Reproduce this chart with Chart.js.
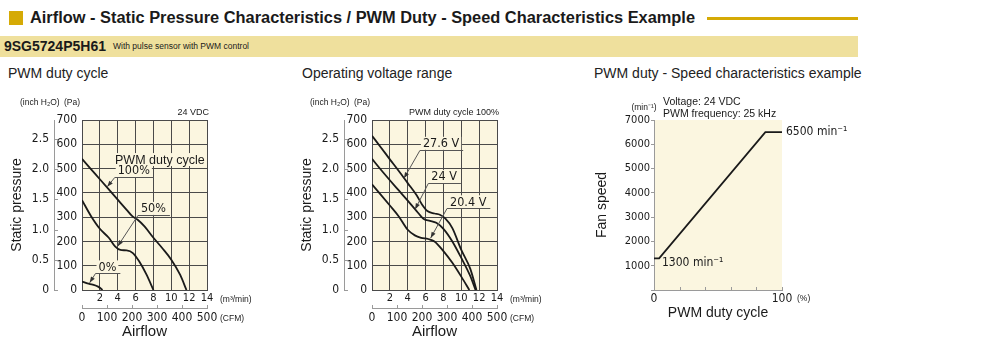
<!DOCTYPE html>
<html>
<head>
<meta charset="utf-8">
<script src="https://cdn.jsdelivr.net/npm/chart.js@4.4.1/dist/chart.umd.min.js"></script>
<style>
  body { margin: 0; width: 1000px; height: 352px; background: #fff; position: relative; overflow: hidden;
         font-family: "Liberation Sans", Arial, sans-serif; color: #1a1a1a; }
  .abs { position: absolute; white-space: nowrap; }
  #titleBox { left: 9px; top: 11px; width: 14px; height: 14px; background: #d5aa05; }
  #title { left: 30px; top: 9px; font-weight: bold; font-size: 16px; line-height: 18px; transform-origin: left top; }
  #titleLine { left: 707px; top: 17px; width: 151px; height: 3px; background: #d5aa05; }
  #banner { left: 0; top: 36px; width: 858px; height: 21px; background: #efe09d; }
  #model { left: 4px; top: 38px; font-weight: bold; font-size: 14px; line-height: 17px; }
  #model span { font-weight: normal; font-size: 8.5px; margin-left: 7px; vertical-align: 2px; }
  .sec { top: 65px; font-size: 14px; line-height: 16px; color: #222; }
  canvas { position: absolute; }
</style>
</head>
<body>
<div id="titleBox" class="abs"></div>
<div id="title" class="abs">Airflow - Static Pressure Characteristics / PWM Duty - Speed Characteristics Example</div>
<div id="titleLine" class="abs"></div>
<div id="banner" class="abs"></div>
<div id="model" class="abs">9SG5724P5H61<span>With pulse sensor with PWM control</span></div>
<div class="abs sec" style="left:8px">PWM duty cycle</div>
<div class="abs sec" style="left:302px">Operating voltage range</div>
<div class="abs sec" style="left:594px">PWM duty - Speed characteristics example</div>

<canvas id="c1" width="290" height="250" style="left:0;top:95px"></canvas>
<canvas id="c2" width="290" height="250" style="left:290px;top:95px"></canvas>
<canvas id="c3" width="300" height="250" style="left:580px;top:95px"></canvas>

<script>
// ---- data (airflow in m3/min, static pressure in Pa) ----
var duty100X = [0, 1, 2, 3, 4, 5, 5.6, 6.2, 7, 8, 9, 10, 11, 11.7];
var duty100P = [540, 498, 456, 414, 372, 330, 305, 290, 262, 215, 172, 125, 62, 0];
var duty50X = [0, 1, 2, 3, 3.7, 4.3, 5, 5.7, 6.4, 7.2, 8];
var duty50P = [370, 305, 252, 215, 180, 165, 163, 152, 118, 65, 0];
var duty0X = [0, 0.6, 1.2, 1.8, 2.3];
var duty0P = [35, 27, 22, 14, 0];

var v276X = [0, 1, 2, 3, 4, 5, 5.6, 6.2, 7, 7.6, 8.2, 9, 10, 11, 11.7];
var v276P = [635, 587, 538, 490, 440, 390, 352, 325, 315, 310, 295, 255, 165, 88, 0];
var v24X = [0, 1, 2, 3, 4, 5, 5.8, 6.5, 7.2, 8, 9, 10, 11, 11.6];
var v24P = [540, 495, 452, 410, 368, 325, 292, 285, 277, 252, 200, 132, 58, 0];
var v204X = [0, 1, 2, 3, 4, 4.8, 5.5, 6.3, 7, 8, 9, 10, 10.9];
var v204P = [435, 392, 348, 303, 248, 225, 215, 210, 200, 160, 112, 55, 0];

var dutyPct = [0, 4, 87, 100];
var fanSpeed = [1300, 1300, 6500, 6500];

var paTicks = 100, inchTicks = 0.5, m3Ticks = 2, cfmTicks = 100;
var PA_PER_INCH = 249.09;

// ---- styles ----
var NARROW = '"Liberation Sans Narrow", "DejaVu Sans Condensed", "Liberation Sans", sans-serif';
var REG = '"Liberation Sans", Arial, sans-serif';
var CREAM = '#fbf6e0';
var GRID = '#4a4a4a';
var AXIS = '#9a9a9a';
var INK = '#1a1a1a';

Chart.defaults.font.family = NARROW;
Chart.defaults.color = INK;

// fit title width
var t = document.getElementById('title');
t.style.transform = 'scaleX(' + (665 / t.offsetWidth) + ')';

function pts(xs, ys) {
    return xs.map(function (v, i) { return { x: v, y: ys[i] }; });
}

var plotBg = {
    id: 'plotBg',
    beforeDraw: function (chart) {
        var a = chart.chartArea, ctx = chart.ctx;
        ctx.save();
        ctx.fillStyle = CREAM;
        ctx.fillRect(a.left, a.top, a.right - a.left, a.bottom - a.top);
        ctx.restore();
    }
};

// small tick marks pointing inward from an axis line
var innerTicks = {
    id: 'innerTicks',
    afterDraw: function (chart, args, opts) {
        var ctx = chart.ctx;
        ctx.save();
        ctx.strokeStyle = AXIS;
        ctx.lineWidth = 1;
        (opts.list || []).forEach(function (it) {
            var s = chart.scales[it.axis];
            s.ticks.forEach(function (tk) {
                var p = Math.round(s.getPixelForValue(tk.value)) + 0.5;
                ctx.beginPath();
                if (s.isHorizontal()) {
                    ctx.moveTo(p, s.top);
                    ctx.lineTo(p, s.top - it.len);
                } else {
                    ctx.moveTo(s.right, p);
                    ctx.lineTo(s.right + it.len, p);
                }
                ctx.stroke();
            });
        });
        ctx.restore();
    }
};

// text labels with underline + arrow leader pointing at a curve
var leaderNotes = {
    id: 'leaderNotes',
    afterDatasetsDraw: function (chart, args, opts) {
        var ctx = chart.ctx, x = chart.scales.x, y = chart.scales.y;
        ctx.save();
        (opts.notes || []).forEach(function (n) {
            ctx.font = n.font;
            var tx = x.getPixelForValue(n.x), ty = y.getPixelForValue(n.y);
            var w = ctx.measureText(n.text).width;
            ctx.fillStyle = CREAM;
            ctx.fillRect(tx - 2, ty - 7, w + 4, 13);
            ctx.fillStyle = INK;
            ctx.textBaseline = 'middle';
            ctx.textAlign = 'left';
            ctx.fillText(n.text, tx, ty);
            if (n.tipX === undefined) return;
            var ux1 = tx - 3, ux2 = tx + w + 4, uy = Math.round(ty + 6) + 0.5;
            var px = x.getPixelForValue(n.tipX), py = y.getPixelForValue(n.tipY);
            ctx.strokeStyle = '#555';
            ctx.lineWidth = 1;
            ctx.beginPath();
            ctx.moveTo(ux2, uy);
            ctx.lineTo(ux1, uy);
            ctx.lineTo(px, py);
            ctx.stroke();
            var ang = Math.atan2(py - uy, px - ux1);
            ctx.fillStyle = '#333';
            ctx.beginPath();
            ctx.moveTo(px, py);
            ctx.lineTo(px - 6 * Math.cos(ang) + 2.2 * Math.sin(ang), py - 6 * Math.sin(ang) - 2.2 * Math.cos(ang));
            ctx.lineTo(px - 6 * Math.cos(ang) - 2.2 * Math.sin(ang), py - 6 * Math.sin(ang) + 2.2 * Math.cos(ang));
            ctx.closePath();
            ctx.fill();
        });
        ctx.restore();
    }
};

function txt(ctx, s, x, y, font, align) {
    ctx.font = font;
    ctx.textAlign = align || 'left';
    ctx.textBaseline = 'middle';
    ctx.fillStyle = INK;
    ctx.fillText(s, x, y);
}

function pqTexts(topNote) {
    return {
        id: 'pqTexts',
        afterDraw: function (chart) {
            var a = chart.chartArea, ctx = chart.ctx;
            ctx.save();
            txt(ctx, '(inch H\u2082O)', a.left - 62, a.top - 17, '8.5px ' + REG);
            txt(ctx, '(Pa)', a.left - 18, a.top - 17, '8.5px ' + REG);
            txt(ctx, topNote, a.right + 2, a.top - 7, '9px ' + REG, 'right');
            txt(ctx, '(m\u00b3/min)', a.right + 13, a.bottom + 10, '8.5px ' + REG);
            txt(ctx, '(CFM)', a.right + 13, a.bottom + 29, '8.5px ' + REG);
            ctx.restore();
        }
    };
}

var flatTicks = { maxRotation: 0, minRotation: 0, autoSkip: false };

function pqChart(id, series, notes, topNote) {
    return new Chart(document.getElementById(id), {
        type: 'line',
        data: {
            datasets: series.map(function (s) {
                return {
                    data: pts(s[0], s[1]),
                    borderColor: INK,
                    borderWidth: 1.8,
                    pointRadius: 0,
                    cubicInterpolationMode: 'monotone',
                    xAxisID: 'x',
                    yAxisID: 'y'
                };
            })
        },
        options: {
            responsive: false,
            animation: false,
            layout: { padding: { top: 25, right: 83, left: 0, bottom: 0 } },
            plugins: {
                legend: { display: false },
                tooltip: { enabled: false },
                innerTicks: { list: [{ axis: 'inch', len: 4 }, { axis: 'cfm', len: 3 }] },
                leaderNotes: { notes: notes }
            },
            scales: {
                x: {
                    type: 'linear', position: 'bottom', min: 0, max: 14,
                    ticks: Object.assign({ stepSize: m3Ticks, padding: 2, font: { size: 11 },
                             callback: function (v) { return v === 0 ? '' : v; } }, flatTicks),
                    grid: { color: GRID, drawTicks: false },
                    border: { color: GRID },
                    afterFit: function (s) { s.height = 18; }
                },
                cfm: {
                    type: 'linear', position: 'bottom', weight: 1, min: 0, max: 500,
                    ticks: Object.assign({ stepSize: cfmTicks, padding: 3, font: { size: 12 } }, flatTicks),
                    grid: { drawOnChartArea: false, drawTicks: false },
                    border: { color: AXIS },
                    title: { display: true, text: 'Airflow', font: { size: 15, family: REG }, padding: { top: 0, bottom: 4 } },
                    afterFit: function (s) { s.height = 37; }
                },
                y: {
                    type: 'linear', position: 'left', min: 0, max: 700,
                    ticks: { stepSize: paTicks, padding: 5, font: { size: 12 } },
                    grid: { color: GRID, drawTicks: false },
                    border: { color: GRID },
                    afterFit: function (s) { s.width = 28; }
                },
                inch: {
                    type: 'linear', position: 'left', weight: 1, min: 0, max: 700 / PA_PER_INCH,
                    ticks: { stepSize: inchTicks, includeBounds: false, padding: 5, font: { size: 12 },
                             callback: function (v) { return v === 0 ? '0' : v.toFixed(1); } },
                    grid: { display: false, drawTicks: false },
                    border: { color: AXIS },
                    title: { display: true, text: 'Static pressure', font: { size: 14, family: REG }, padding: { top: 9, bottom: 0 } },
                    afterFit: function (s) { s.width = 54; }
                }
            }
        },
        plugins: [plotBg, innerTicks, leaderNotes, pqTexts(topNote)]
    });
}

var noteFont = '12.5px ' + NARROW;

pqChart('c1',
    [[duty100X, duty100P], [duty50X, duty50P], [duty0X, duty0P]],
    [
        { text: 'PWM duty cycle', x: 3.7, y: 535, font: '12.5px ' + REG },
        { text: '100%', x: 4.0, y: 489, tipX: 2.83, tipY: 425, font: noteFont },
        { text: '50%', x: 6.6, y: 334, tipX: 4.0, tipY: 180, font: noteFont },
        { text: '0%', x: 1.85, y: 93, tipX: 0.86, tipY: 30, font: noteFont }
    ],
    '24 VDC');

pqChart('c2',
    [[v276X, v276P], [v24X, v24P], [v204X, v204P]],
    [
        { text: '27.6 V', x: 5.7, y: 602, tipX: 3.58, tipY: 460, font: noteFont },
        { text: '24 V', x: 6.64, y: 465, tipX: 4.83, tipY: 332, font: noteFont },
        { text: '20.4 V', x: 8.74, y: 361, tipX: 6.57, tipY: 214, font: noteFont }
    ],
    'PWM duty cycle 100%');

// ---- PWM duty vs speed ----
var speedTexts = {
    id: 'speedTexts',
    afterDraw: function (chart) {
        var a = chart.chartArea, ctx = chart.ctx, y = chart.scales.y;
        ctx.save();
        txt(ctx, '(min\u207b\u00b9)', a.left - 10, a.top - 12, '8.5px ' + REG, 'center');
        txt(ctx, 'Voltage: 24 VDC', a.left + 9, a.top - 18, '10.5px ' + REG);
        txt(ctx, 'PWM frequency: 25 kHz', a.left + 9, a.top - 6, '10.5px ' + REG);
        txt(ctx, '6500 min\u207b\u00b9', a.right + 4, y.getPixelForValue(fanSpeed[2]), '12px ' + NARROW);
        txt(ctx, '1300 min\u207b\u00b9', a.left + 8, y.getPixelForValue(fanSpeed[0]) + 4, '12px ' + NARROW);
        txt(ctx, '(%)', a.right + 15, a.bottom + 9, '8.5px ' + REG);
        ctx.restore();
    }
};

new Chart(document.getElementById('c3'), {
    type: 'line',
    data: {
        datasets: [{
            data: pts(dutyPct, fanSpeed),
            borderColor: INK,
            borderWidth: 1.8,
            pointRadius: 0,
            tension: 0
        }]
    },
    options: {
        responsive: false,
        animation: false,
        layout: { padding: { top: 25, right: 98, left: 0, bottom: 19 } },
        plugins: {
            legend: { display: false },
            tooltip: { enabled: false },
            innerTicks: { list: [{ axis: 'x', len: 3 }] }
        },
        scales: {
            x: {
                type: 'linear', min: 0, max: 100,
                ticks: Object.assign({ stepSize: 20, padding: 2, font: { size: 12 },
                         callback: function (v) { return (v === 0 || v === 100) ? v : ''; } }, flatTicks),
                grid: { display: false, drawTicks: false },
                border: { color: AXIS },
                title: { display: true, text: 'PWM duty cycle', font: { size: 14, family: REG }, padding: { top: 0, bottom: 4 } },
                afterFit: function (s) { s.height = 36; }
            },
            y: {
                type: 'linear', min: 0, max: 7000,
                ticks: { stepSize: 1000, padding: 1, font: { size: 11 },
                         callback: function (v) { return v === 0 ? '' : v; } },
                grid: { drawOnChartArea: false, drawTicks: true, tickLength: 3, color: AXIS },
                border: { color: AXIS },
                title: { display: true, text: 'Fan speed', font: { size: 14, family: REG }, padding: { top: 14, bottom: 0 } },
                afterFit: function (s) { s.width = 74; }
            }
        }
    },
    plugins: [plotBg, innerTicks, speedTexts]
});
</script>
</body>
</html>
